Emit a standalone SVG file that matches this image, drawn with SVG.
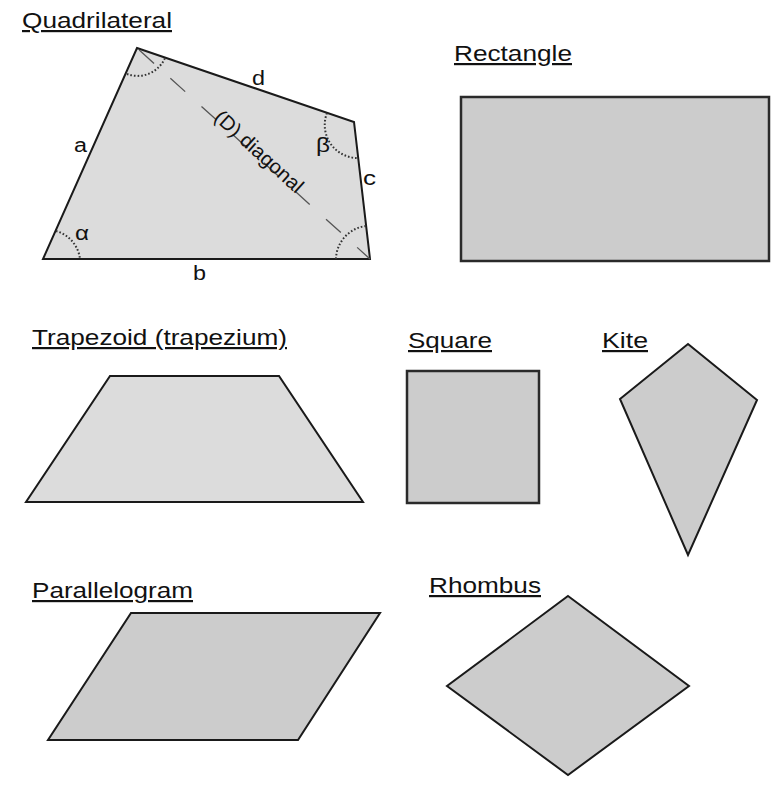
<svg xmlns="http://www.w3.org/2000/svg" width="782" height="790" viewBox="0 0 782 790">
<style>
  .title { font-family: "Liberation Sans", Arial, sans-serif; font-size: 22px; fill: #111; text-decoration: underline; }
  .lbl { font-family: "Liberation Sans", Arial, sans-serif; font-size: 20px; fill: #111; }
  .shape { fill: #cccccc; stroke: #1a1a1a; stroke-width: 2; stroke-linejoin: miter; }
  .light { fill: #dcdcdc; }
  .box { stroke: #2a2a2a; stroke-width: 2.5; }
  .angle { fill: none; stroke: #333; stroke-width: 2; stroke-dasharray: 1.6 2; }
  .diag { fill: none; stroke: #555; stroke-width: 1.3; stroke-dasharray: 20 22; stroke-dashoffset: -3; }
</style>
<rect width="782" height="790" fill="#ffffff"/>

<g id="quadrilateral">
  <text class="title" x="22" y="28" textLength="150" lengthAdjust="spacingAndGlyphs">Quadrilateral</text>
  <polygon class="shape light" points="137,48 354,122 370,259 43,259"/>
  <path class="diag" d="M137,48 L370,259"/>
  <path class="angle" d="M127,74 A30 30 0 0 0 165,58"/>
  <path class="angle" d="M327,113 A33 33 0 0 0 358,158"/>
  <path class="angle" d="M336,259 A34 34 0 0 1 366,226"/>
  <path class="angle" d="M56,231 A33 33 0 0 1 80,259"/>
  <text class="lbl" x="213" y="119" transform="rotate(42.16 213 119)" font-size="19" textLength="112" lengthAdjust="spacingAndGlyphs">(D) diagonal</text>
  <text class="lbl" x="252" y="85" textLength="13" lengthAdjust="spacingAndGlyphs">d</text>
  <text class="lbl" x="74" y="152" textLength="13" lengthAdjust="spacingAndGlyphs">a</text>
  <text class="lbl" x="316" y="152" textLength="14" lengthAdjust="spacingAndGlyphs">β</text>
  <text class="lbl" x="363" y="185" textLength="13" lengthAdjust="spacingAndGlyphs">c</text>
  <text class="lbl" x="75" y="240" textLength="14" lengthAdjust="spacingAndGlyphs">α</text>
  <text class="lbl" x="193" y="280" textLength="13" lengthAdjust="spacingAndGlyphs">b</text>
</g>

<g id="rectangle">
  <text class="title" x="454" y="61" textLength="118" lengthAdjust="spacingAndGlyphs">Rectangle</text>
  <rect class="shape box" x="461" y="97" width="308" height="164"/>
</g>

<g id="trapezoid">
  <text class="title" x="32" y="345" textLength="255" lengthAdjust="spacingAndGlyphs">Trapezoid (trapezium)</text>
  <polygon class="shape light" points="110,376 279,376 363,502 26,502"/>
</g>

<g id="square">
  <text class="title" x="408" y="348" textLength="84" lengthAdjust="spacingAndGlyphs">Square</text>
  <rect class="shape box" x="407" y="371" width="132" height="132"/>
</g>

<g id="kite">
  <text class="title" x="602" y="348" textLength="46" lengthAdjust="spacingAndGlyphs">Kite</text>
  <polygon class="shape" points="688,344 757,400 688,555 620,399"/>
</g>

<g id="parallelogram">
  <text class="title" x="32" y="598" textLength="161" lengthAdjust="spacingAndGlyphs">Parallelogram</text>
  <polygon class="shape" points="131,613 380,613 298,740 48,740"/>
</g>

<g id="rhombus">
  <text class="title" x="429" y="593" textLength="112" lengthAdjust="spacingAndGlyphs">Rhombus</text>
  <polygon class="shape" points="568,596 689,686 568,775 447,686"/>
</g>

<g id="connectors"/>
</svg>
